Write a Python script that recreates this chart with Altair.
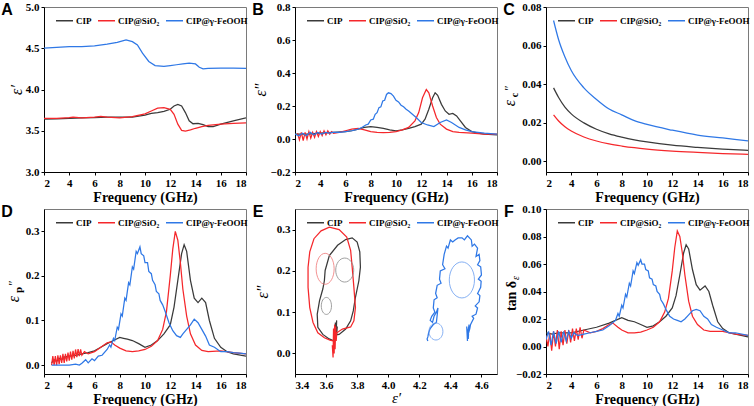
import altair as alt
import pandas as pd

NAMES = ["CIP", "CIP@SiO\u2082", "CIP@\u03b3-FeOOH"]
COLORS = ["#3a3a3a", "#f5272b", "#2f78e6"]

# ---------- A : epsilon'
ax_cip = [2, 3, 4, 5, 6, 7, 8, 9, 10, 10.5,
          11, 11.5, 12, 12.3, 12.6, 12.9, 13.2, 13.5, 13.8, 14.2,
          14.6, 15.0, 15.4, 16, 17, 18]
ay_cip = [3.64, 3.645, 3.65, 3.655, 3.66, 3.665, 3.665, 3.665, 3.69, 3.71,
          3.72, 3.735, 3.76, 3.80, 3.82, 3.80, 3.72, 3.62, 3.585, 3.59,
          3.575, 3.55, 3.55, 3.58, 3.62, 3.655]
ax_sio = [2, 3, 4, 4.3, 5, 6, 6.5, 7, 8, 9,
          10, 10.5, 11, 11.5, 12, 12.3, 12.6, 12.9, 13.2, 13.6,
          14, 14.5, 15, 16, 17, 18]
ay_sio = [3.65, 3.65, 3.66, 3.665, 3.655, 3.665, 3.675, 3.665, 3.655, 3.67,
          3.705, 3.74, 3.775, 3.78, 3.76, 3.70, 3.58, 3.505, 3.495, 3.51,
          3.53, 3.55, 3.565, 3.58, 3.59, 3.595]
ax_feo = [2, 3, 4, 5, 6, 7, 7.8, 8.5, 9.0, 9.4,
          9.8, 10.3, 10.8, 11.5, 12, 12.5, 13.0, 13.5, 14, 14.3,
          14.6, 15, 16, 17, 18]
ay_feo = [4.50, 4.51, 4.52, 4.52, 4.53, 4.55, 4.57, 4.60, 4.58, 4.54,
          4.44, 4.34, 4.29, 4.28, 4.29, 4.30, 4.31, 4.32, 4.31, 4.27,
          4.25, 4.255, 4.26, 4.26, 4.255]

# ---------- B : epsilon''
bx_cip = [2, 3, 4, 5, 6, 6.5, 7, 7.5, 8, 8.5,
          9, 9.5, 10, 10.5, 11, 11.5, 12, 12.3, 12.6, 12.9,
          13.1, 13.3, 13.6, 13.9, 14.2, 14.5, 14.8, 15.1, 15.5, 16,
          16.5, 17, 18]
by_cip = [0.03, 0.03, 0.035, 0.04, 0.045, 0.05, 0.06, 0.07, 0.075, 0.07,
          0.065, 0.055, 0.05, 0.055, 0.065, 0.075, 0.09, 0.12, 0.18, 0.25,
          0.28, 0.265, 0.21, 0.17, 0.15, 0.155, 0.14, 0.11, 0.07, 0.045,
          0.035, 0.03, 0.025]
bx_sio = [2.2, 2.35, 2.5, 2.65, 2.8, 2.95, 3.1, 3.25, 3.4, 3.55,
          3.7, 3.85, 4.0, 4.15, 4.3, 4.45, 4.6, 4.75, 4.9, 5.05,
          5.5, 6.0, 6.5, 7.0, 7.5, 8.0, 8.5, 9.0, 9.5, 10.0,
          10.5, 11.0, 11.5, 11.8, 12.1, 12.4, 12.6, 12.9, 13.2, 13.5,
          14.0, 14.5, 15.0, 16.0, 17.0, 18.0]
by_sio = [0.035, -0.005, 0.04, -0.01, 0.04, 0.0, 0.045, 0.005, 0.04, 0.01,
          0.045, 0.015, 0.045, 0.02, 0.05, 0.025, 0.05, 0.03, 0.045, 0.035,
          0.04, 0.05, 0.06, 0.065, 0.055, 0.045, 0.04, 0.038, 0.04, 0.045,
          0.055, 0.07, 0.11, 0.16, 0.25, 0.30, 0.28, 0.20, 0.13, 0.09,
          0.06, 0.045, 0.04, 0.035, 0.03, 0.03]
bx_feo = [2, 2.3, 2.6, 2.9, 3.2, 3.5, 3.8, 4.1, 4.4, 4.7,
          5.0, 5.5, 6.0, 6.5, 7.0, 7.3, 7.6, 7.8, 8.0, 8.2,
          8.35, 8.5, 8.65, 8.8, 8.95, 9.1, 9.25, 9.4, 9.6, 9.8,
          10.0, 10.2, 10.4, 10.6, 10.8, 11.0, 11.3, 11.6, 12.0, 12.5,
          13.0, 13.5, 14.0, 14.4, 15.0, 15.5, 16.0, 17.0, 18.0]
by_feo = [0.03, 0.02, 0.035, 0.02, 0.04, 0.025, 0.04, 0.03, 0.04, 0.035,
          0.04, 0.04, 0.045, 0.05, 0.06, 0.07, 0.085, 0.09, 0.115, 0.12,
          0.15, 0.16, 0.19, 0.195, 0.23, 0.235, 0.27, 0.28, 0.275, 0.26,
          0.235, 0.225, 0.205, 0.195, 0.18, 0.17, 0.15, 0.13, 0.10, 0.085,
          0.075, 0.10, 0.115, 0.10, 0.07, 0.055, 0.045, 0.035, 0.03]

# ---------- C : epsilon_c''
cx = [2.6, 3, 3.5, 4, 5, 6, 7, 8, 9, 10, 12, 14, 16, 18]
cy_cip = [0.038, 0.033, 0.028, 0.0245, 0.0198, 0.0165, 0.0141, 0.0124, 0.011, 0.0099,
          0.0082, 0.0071, 0.0062, 0.0055]
cy_sio = [0.024, 0.0208, 0.0178, 0.0156, 0.0125, 0.0104, 0.0089, 0.0078, 0.0069, 0.0062,
          0.0052, 0.0045, 0.0039, 0.0035]
cy_feo = [0.073, 0.063, 0.054, 0.047, 0.038, 0.032, 0.027, 0.024, 0.021, 0.019,
          0.016, 0.0135, 0.012, 0.0105]

# ---------- D : epsilon_p''
dx_cip = [2.6, 2.8, 3.0, 3.2, 3.4, 3.6, 4.0, 4.5, 5.0, 5.5,
          6.0, 6.5, 7.0, 7.5, 8.0, 8.3, 8.6, 9.0, 9.5, 10.0,
          10.5, 11.0, 11.5, 12.0, 12.3, 12.6, 12.9, 13.1, 13.3, 13.6,
          13.9, 14.2, 14.5, 14.8, 15.1, 15.5, 16.0, 16.5, 17.0, 18.0]
dy_cip = [0.005, 0.012, 0.008, 0.015, 0.012, 0.018, 0.02, 0.022, 0.025, 0.028,
          0.032, 0.04, 0.048, 0.055, 0.062, 0.06, 0.058, 0.055, 0.048, 0.04,
          0.045, 0.055, 0.07, 0.09, 0.13, 0.19, 0.25, 0.27, 0.255, 0.19,
          0.15, 0.14, 0.15, 0.14, 0.10, 0.06, 0.04, 0.03, 0.025, 0.02]
dx_sio = [2.6, 2.7, 2.8, 2.9, 3.0, 3.1, 3.2, 3.3, 3.4, 3.5,
          3.6, 3.7, 3.8, 3.9, 4.0, 4.1, 4.2, 4.3, 4.4, 4.5,
          4.6, 4.7, 4.8, 4.9, 5.0, 5.2, 5.5, 6.0, 6.5, 7.0,
          7.3, 7.6, 8.0, 8.5, 9.0, 9.5, 10.0, 10.5, 11.0, 11.4,
          11.7, 12.0, 12.2, 12.4, 12.6, 12.8, 13.0, 13.3, 13.6, 14.0,
          14.5, 15.0, 16.0, 17.0, 18.0]
dy_sio = [0.0, 0.02, 0.0, 0.02, 0.0, 0.022, 0.002, 0.022, 0.005, 0.025,
          0.005, 0.025, 0.008, 0.028, 0.01, 0.03, 0.012, 0.032, 0.015, 0.035,
          0.018, 0.036, 0.02, 0.035, 0.022, 0.03, 0.025, 0.03, 0.04, 0.05,
          0.052, 0.045, 0.038, 0.032, 0.03, 0.032, 0.035, 0.042, 0.055, 0.08,
          0.12, 0.2, 0.26, 0.30, 0.28, 0.23, 0.17, 0.11, 0.07, 0.045,
          0.033, 0.03, 0.032, 0.028, 0.025]
dx_feo = [2.6, 3.0, 3.5, 4.0, 4.5, 4.8, 5.0, 5.3, 5.5, 5.8,
          6.0, 6.3, 6.6, 7.0, 7.2, 7.3, 7.5, 7.6, 7.8, 7.9,
          8.1, 8.2, 8.4, 8.5, 8.7, 8.8, 9.0, 9.1, 9.3, 9.4,
          9.6, 9.7, 9.9, 10.0, 10.2, 10.3, 10.5, 10.6, 10.8, 10.9,
          11.1, 11.2, 11.4, 11.6, 11.9, 12.2, 12.5, 12.8, 13.0, 13.3,
          13.6, 13.9, 14.2, 14.5, 14.8, 15.1, 15.5, 16.0, 16.5, 17.0,
          17.5, 18.0]
dy_feo = [0.0, 0.0, 0.0, 0.0, 0.002, 0.0, 0.004, 0.012, 0.005, 0.014,
          0.01, 0.02, 0.022, 0.035, 0.045, 0.04, 0.06, 0.055, 0.085, 0.08,
          0.115, 0.11, 0.15, 0.145, 0.185, 0.18, 0.22, 0.215, 0.255, 0.25,
          0.265, 0.25, 0.245, 0.23, 0.23, 0.21, 0.205, 0.19, 0.18, 0.165,
          0.16, 0.145, 0.135, 0.12, 0.095, 0.077, 0.066, 0.062, 0.07, 0.08,
          0.09, 0.103, 0.095, 0.08, 0.065, 0.045, 0.04, 0.03, 0.03, 0.028,
          0.027, 0.025]

# ---------- E : Cole-Cole (epsilon'' vs epsilon')
ex_cip = [3.655, 3.66, 3.662, 3.668, 3.664, 3.672, 3.668,
          3.684, 3.726, 3.758, 3.775, 3.789, 3.811, 3.821, 3.817, 3.80, 3.768,
          3.726, 3.674, 3.621, 3.594, 3.589, 3.579, 3.558, 3.543, 3.547, 3.579,
          3.62, 3.653]
ey_cip = [0.03, 0.075, 0.035, 0.08, 0.04, 0.065, 0.045,
          0.046, 0.059, 0.079, 0.103, 0.136, 0.176, 0.209, 0.246, 0.27, 0.28,
          0.276, 0.262, 0.237, 0.201, 0.176, 0.156, 0.128, 0.095, 0.063, 0.046,
          0.035, 0.03]
ex_sio = [3.64, 3.645, 3.648, 3.652, 3.655, 3.658, 3.662, 3.665,
          3.669, 3.705, 3.758, 3.779, 3.789, 3.779, 3.768, 3.758, 3.733, 3.684,
          3.621, 3.568, 3.522, 3.495, 3.484, 3.484, 3.495, 3.516, 3.547, 3.589,
          3.625, 3.645]
ey_sio = [0.02, -0.01, 0.06, 0.0, 0.07, 0.01, 0.065, 0.03,
          0.05, 0.059, 0.064, 0.079, 0.111, 0.16, 0.209, 0.25, 0.282, 0.300,
          0.306, 0.297, 0.278, 0.246, 0.209, 0.16, 0.111, 0.075, 0.05, 0.038,
          0.032, 0.03]
ex_feo = [4.51, 4.505, 4.515, 4.52, 4.51, 4.525,
          4.53, 4.55, 4.54, 4.565, 4.575, 4.56, 4.585, 4.59, 4.575, 4.595,
          4.598, 4.58, 4.6, 4.595, 4.575, 4.59, 4.585, 4.565, 4.575, 4.555,
          4.54, 4.535, 4.51, 4.49, 4.475, 4.45, 4.43, 4.415, 4.40, 4.385,
          4.375, 4.36, 4.35, 4.365, 4.335, 4.33, 4.34, 4.315, 4.305, 4.315,
          4.295, 4.29, 4.3, 4.28, 4.27, 4.285, 4.295, 4.31, 4.32, 4.31,
          4.29, 4.27, 4.26, 4.255, 4.25, 4.255]
ey_feo = [0.03, 0.065, 0.035, 0.07, 0.04, 0.06,
          0.07, 0.085, 0.09, 0.095, 0.11, 0.115, 0.125, 0.14, 0.145, 0.16,
          0.175, 0.18, 0.19, 0.21, 0.215, 0.225, 0.24, 0.235, 0.255, 0.265,
          0.26, 0.275, 0.285, 0.275, 0.28, 0.28, 0.275, 0.27, 0.275, 0.255,
          0.26, 0.24, 0.215, 0.205, 0.2, 0.18, 0.17, 0.165, 0.145, 0.135,
          0.13, 0.11, 0.1, 0.09, 0.08, 0.075, 0.09, 0.1, 0.11, 0.075,
          0.07, 0.06, 0.05, 0.04, 0.035, 0.03]
ell_x = [3.594, 3.72, 3.602, 4.474, 4.307]
ell_y = [0.205, 0.202, 0.115, 0.178, 0.053]

# ---------- F : tan delta_e
fx_cip = [2.0, 2.5, 3.0, 4.0, 5.0, 6.0, 7.0, 7.5, 8.0, 8.5,
          9.0, 9.5, 10.0, 10.5, 11.0, 11.5, 12.0, 12.3, 12.6, 12.9,
          13.1, 13.3, 13.6, 13.9, 14.2, 14.6, 14.9, 15.2, 15.6, 16.0,
          16.5, 17.0, 18.0]
fy_cip = [0.01, 0.009, 0.01, 0.01, 0.012, 0.014, 0.017, 0.019, 0.021, 0.019,
          0.018, 0.016, 0.014, 0.015, 0.018, 0.022, 0.028, 0.037, 0.052, 0.068,
          0.074, 0.071, 0.056, 0.045, 0.041, 0.044, 0.04, 0.03, 0.018, 0.013,
          0.01, 0.009, 0.007]
fx_sio = [2.0, 2.15, 2.3, 2.45, 2.6, 2.75, 2.9, 3.05, 3.2, 3.35,
          3.5, 3.65, 3.8, 3.95, 4.1, 4.25, 4.4, 4.55, 4.7, 4.85,
          5.0, 5.5, 6.0, 6.5, 7.0, 7.3, 7.7, 8.0, 8.5, 9.0,
          9.5, 10.0, 10.5, 11.0, 11.4, 11.7, 12.0, 12.2, 12.4, 12.6,
          12.8, 13.0, 13.3, 13.6, 14.0, 14.5, 15.0, 16.0, 17.0, 18.0]
fy_sio = [0.008, 0.0, 0.01, -0.003, 0.011, 0.0, 0.012, -0.002, 0.011, 0.001,
          0.012, 0.002, 0.012, 0.003, 0.013, 0.004, 0.013, 0.005, 0.014, 0.006,
          0.012, 0.01, 0.011, 0.013, 0.016, 0.017, 0.014, 0.012, 0.01, 0.01,
          0.0105, 0.012, 0.014, 0.018, 0.025, 0.035, 0.055, 0.072, 0.084, 0.08,
          0.068, 0.052, 0.033, 0.022, 0.016, 0.012, 0.011, 0.011, 0.009, 0.008]
fx_feo = [2.0, 2.2, 2.4, 2.6, 2.8, 3.0, 3.2, 3.4, 3.6, 3.8,
          4.0, 4.2, 4.5, 5.0, 5.5, 6.0, 6.5, 7.0, 7.5, 7.7,
          7.8, 8.0, 8.1, 8.3, 8.4, 8.6, 8.7, 8.9, 9.0, 9.2,
          9.3, 9.5, 9.6, 9.8, 9.9, 10.1, 10.2, 10.4, 10.5, 10.7,
          10.8, 11.0, 11.1, 11.3, 11.5, 11.8, 12.1, 12.4, 12.7, 13.0,
          13.3, 13.6, 13.9, 14.2, 14.5, 14.8, 15.1, 15.5, 16.0, 16.5,
          17.0, 18.0]
fy_feo = [0.005, 0.011, 0.001, 0.011, 0.002, 0.011, 0.003, 0.011, 0.004, 0.011,
          0.006, 0.01, 0.008, 0.009, 0.01, 0.011, 0.012, 0.015, 0.019, 0.024,
          0.022, 0.03, 0.028, 0.038, 0.036, 0.046, 0.044, 0.055, 0.053, 0.061,
          0.059, 0.063, 0.06, 0.06, 0.056, 0.055, 0.05, 0.049, 0.045, 0.044,
          0.04, 0.038, 0.034, 0.031, 0.027, 0.022, 0.02, 0.019, 0.018, 0.02,
          0.023, 0.026, 0.027, 0.026, 0.022, 0.02, 0.016, 0.014, 0.012, 0.01,
          0.01, 0.008]

FREQ_TICKS = [2, 4, 6, 8, 10, 12, 14, 16, 18]
E_TICKS = [3.4, 3.6, 3.8, 4.0, 4.2, 4.4, 4.6]
SERIF = "Liberation Serif"
W, H = 202, 165


def long_df(xs_list, ys_list):
    rows = []
    for name, xs, ys in zip(NAMES, xs_list, ys_list):
        for i, (a, b) in enumerate(zip(xs, ys)):
            rows.append({"f": a, "v": b, "s": name, "i": i})
    return pd.DataFrame(rows)


def legend():
    return alt.Legend(orient="none", legendX=11, legendY=4, direction="horizontal",
                      title=None, symbolType="stroke", symbolSize=289,
                      symbolStrokeWidth=1.5, labelFont=SERIF, labelFontWeight="bold",
                      labelFontSize=9, labelOffset=2, columnPadding=3, padding=0)


def text_layer(txt, x, y, size, weight="bold", style="normal", angle=270, font=SERIF):
    return alt.Chart(pd.DataFrame({"t": [txt]})).mark_text(
        font=font, fontSize=size, fontWeight=weight, fontStyle=style,
        angle=angle, align="center", baseline="middle", color="black"
    ).encode(x=alt.value(x), y=alt.value(y), text="t:N")


def xy_enc(xdom, xvals, xfmt, xtitle, ydom, yvals, yfmt, ytitle,
           eps_title=False, tpad=0, xeps=False):
    yaxis_kw = dict(values=yvals, format=yfmt, titlePadding=tpad, labelOverlap=False)
    if ytitle is None:
        yaxis_kw["title"] = None
    else:
        yaxis_kw["title"] = ytitle
        if eps_title:
            yaxis_kw.update(titleFontWeight="normal", titleFontStyle="italic", titleFontSize=16)
    xaxis_kw = dict(values=xvals, format=xfmt, title=xtitle, titlePadding=2, labelOverlap=False)
    if xeps:
        xaxis_kw.update(titleFontWeight="normal", titleFontStyle="italic", titleFontSize=15,
                        titlePadding=0)
    return dict(
        x=alt.X("f:Q", scale=alt.Scale(domain=xdom, nice=False, zero=False), axis=alt.Axis(**xaxis_kw)),
        y=alt.Y("v:Q", scale=alt.Scale(domain=ydom, nice=False, zero=False), axis=alt.Axis(**yaxis_kw)),
    )


def panel(df, letter, xy, interp="linear", ordered=False):
    enc = dict(xy)
    enc["color"] = alt.Color("s:N", scale=alt.Scale(domain=NAMES, range=COLORS), legend=legend())
    if ordered:
        enc["order"] = alt.Order("i:Q")
    lines = alt.Chart(df).mark_line(strokeWidth=1.25, clip=True, interpolate=interp).encode(**enc)
    lab = text_layer(letter, -37, 3, 16, angle=0, font="Liberation Sans")
    return lines, lab


# A
xyA = xy_enc([2, 18], FREQ_TICKS, "d", "Frequency (GHz)",
             [3.0, 5.0], [3.0, 3.5, 4.0, 4.5, 5.0], ".1f", "\u03b5\u2032", eps_title=True, tpad=1)
a_lines, a_lab = panel(long_df([ax_cip, ax_sio, ax_feo], [ay_cip, ay_sio, ay_feo]), "A", xyA)
pA = alt.layer(a_lines, a_lab).properties(width=W, height=H)

# B
xyB = xy_enc([2, 18], FREQ_TICKS, "d", "Frequency (GHz)",
             [-0.2, 0.8], [-0.2, 0.0, 0.2, 0.4, 0.6, 0.8], ".1f", "\u03b5\u2033", eps_title=True, tpad=1)
b_lines, b_lab = panel(long_df([bx_cip, bx_sio, bx_feo], [by_cip, by_sio, by_feo]), "B", xyB)
pB = alt.layer(b_lines, b_lab).properties(width=W, height=H)

# C
xyC = xy_enc([2, 18], FREQ_TICKS, "d", "Frequency (GHz)",
             [-0.0057, 0.08], [0.0, 0.02, 0.04, 0.06, 0.08], ".2f", None)
c_lines, c_lab = panel(long_df([cx, cx, cx], [cy_cip, cy_sio, cy_feo]), "C", xyC, interp="monotone")
pC = alt.layer(c_lines, c_lab,
               text_layer("\u03b5", -36, 96, 16, weight="normal", style="italic"),
               text_layer("c", -31, 88, 10),
               text_layer("\u2033", -37, 81, 13, weight="normal"),
               ).properties(width=W, height=H)

# D
xyD = xy_enc([2, 18], FREQ_TICKS, "d", "Frequency (GHz)",
             [-0.02, 0.35], [0.0, 0.1, 0.2, 0.3], ".1f", None)
d_lines, d_lab = panel(long_df([dx_cip, dx_sio, dx_feo], [dy_cip, dy_sio, dy_feo]), "D", xyD)
pD = alt.layer(d_lines, d_lab,
               text_layer("\u03b5", -30, 90, 16, weight="normal", style="italic"),
               text_layer("p", -25, 81, 11),
               text_layer("\u2033", -31, 74, 13, weight="normal"),
               ).properties(width=W, height=H)

# E
xyE = xy_enc([3.4, 4.7], E_TICKS, ".1f", "\u03b5\u2032",
             [-0.05, 0.35], [0.0, 0.1, 0.2, 0.3], ".1f", "\u03b5\u2033",
             eps_title=True, tpad=6, xeps=True)
e_lines, e_lab = panel(long_df([ex_cip, ex_sio, ex_feo], [ey_cip, ey_sio, ey_feo]), "E", xyE,
                       ordered=True)
ELL_STYLE = [
    ("M -0.58 0 A 0.58 1 0 1 0 0.58 0 A 0.58 1 0 1 0 -0.58 0 Z", 961, "#f07a7a"),
    ("M -0.75 0 A 0.75 1 0 1 0 0.75 0 A 0.75 1 0 1 0 -0.75 0 Z", 576, "#8a8a8a"),
    ("M -0.6 0 A 0.6 1 0 1 0 0.6 0 A 0.6 1 0 1 0 -0.6 0 Z", 289, "#8a8a8a"),
    ("M -0.7 0 A 0.7 1 0 1 0 0.7 0 A 0.7 1 0 1 0 -0.7 0 Z", 1296, "#6a9ef0"),
    ("M -0.82 0 A 0.82 1 0 1 0 0.82 0 A 0.82 1 0 1 0 -0.82 0 Z", 289, "#6a9ef0"),
]
ells = []
for k, (shp, sz, col) in enumerate(ELL_STYLE):
    ells.append(alt.Chart(pd.DataFrame({"f": [ell_x[k]], "v": [ell_y[k]]})).mark_point(
        shape=shp, size=sz, filled=False, stroke=col, strokeWidth=0.9, opacity=0.9
    ).encode(**xyE))
pE = alt.layer(e_lines, *ells, e_lab).properties(width=W, height=H)

# F
xyF = xy_enc([2, 18], FREQ_TICKS, "d", "Frequency (GHz)",
             [-0.02, 0.10], [-0.02, 0.0, 0.02, 0.04, 0.06, 0.08, 0.10], ".2f", None)
f_lines, f_lab = panel(long_df([fx_cip, fx_sio, fx_feo], [fy_cip, fy_sio, fy_feo]), "F", xyF)
pF = alt.layer(f_lines, f_lab,
               text_layer("tan \u03b4", -34, 87, 14),
               text_layer("\u03b5", -30, 69, 10, weight="normal", style="italic"),
               ).properties(width=W, height=H)

chart = alt.concat(
    pA, pB, pC, pD, pE, pF, columns=3,
    spacing=alt.RowColnumber(row=37, column=49), bounds="flush",
).resolve_scale(
    color="independent"
).properties(
    padding={"left": 0, "top": 0, "right": 0, "bottom": 0},
    background="white",
).configure_axis(
    labelFont=SERIF, labelFontWeight="bold", labelFontSize=11, labelColor="black",
    titleFont=SERIF, titleFontWeight="bold", titleFontSize=14, titleColor="black",
    domainColor="black", tickColor="black", tickSize=3, labelPadding=2, grid=False,
    labelOverlap=False,
).configure_view(stroke="#7a7a7a", strokeWidth=1)

chart.save("out.html", embed_options={"renderer": "svg", "actions": False})
